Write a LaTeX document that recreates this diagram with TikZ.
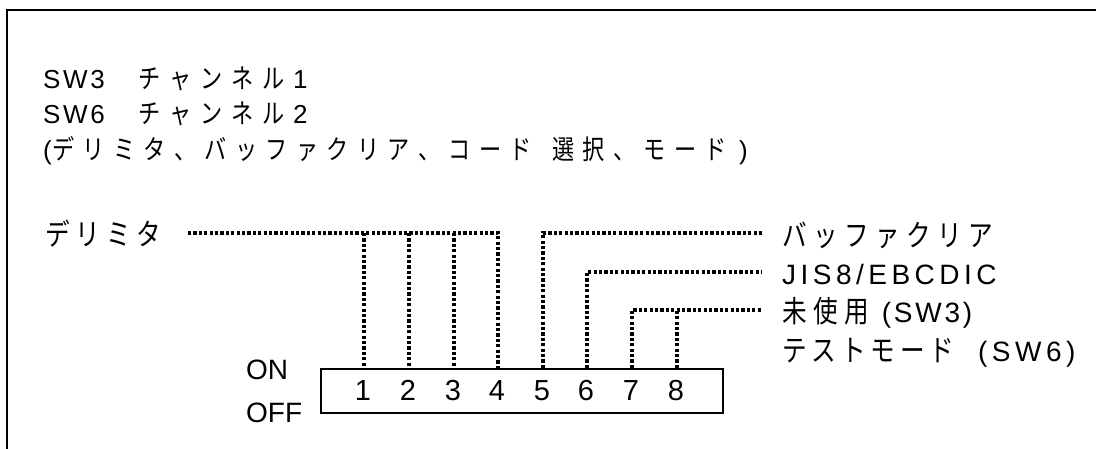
\documentclass[tikz,border=0pt]{standalone}
\usepackage{fontspec}
\setmainfont{Liberation Sans}
\newfontfamily\jp[FakeStretch=0.82]{Noto Sans CJK JP}
\newfontfamily\lt[LetterSpace=10]{Liberation Sans}
\newfontfamily\ltw[LetterSpace=16]{Liberation Sans}
\makeatletter
\newcommand\jfix[2]{\def\jfix@w{#1}\jfix@loop#2\relax}
\def\jfix@loop#1{\ifx#1\relax\else\makebox[\jfix@w][l]{#1}\expandafter\jfix@loop\fi}
\makeatother
\begin{document}
\begin{tikzpicture}[x=1pt,y=-1pt,
  hdr/.style={inner sep=0pt,anchor=base west,font=\fontsize{26}{30}\selectfont},
  txt/.style={inner sep=0pt,anchor=base west,font=\fontsize{28}{30}\selectfont},
  num/.style={inner sep=0pt,anchor=base,font=\fontsize{29}{30}\selectfont},
  dots/.style={line width=3.4pt,dash pattern=on 3.2pt off 2.2pt},
  frame/.style={line width=2.6pt},
  box/.style={line width=2.2pt}]
\useasboundingbox (0,0) rectangle (1096,448);
\begin{scope}
\clip (0,0) rectangle (1096,448);
\draw[frame] (7,10) rectangle (1200,600);
\end{scope}
% header lines
\node[hdr] (l1) at (43,88) {\makebox[95pt][l]{\lt SW3}{\jp\fontsize{27}{30}\selectfont\jfix{31pt}{チャンネル}}\lt 1};
\node[hdr] (l2) at (43,123) {\makebox[95pt][l]{\lt SW6}{\jp\fontsize{27}{30}\selectfont\jfix{31pt}{チャンネル}}\lt 2};
\node[hdr] (l3) at (43,159) {\makebox[9pt][l]{(}{\jp\fontsize{27}{30}\selectfont\jfix{30.5pt}{デリミタ、バッファクリア、コード}\hspace{12pt}\jfix{30.5pt}{選択、モード}}\hspace{4pt})};
% left label
\node[txt] (delim) at (45,245) {\jp\fontsize{30}{30}\selectfont\jfix{30.5pt}{デリミタ}};
% right labels
\node[txt] (buf) at (782,246) {\jp\fontsize{30}{30}\selectfont\jfix{31pt}{バッファクリア}};
\node[txt] (jis) at (782,284) {\ltw JIS8/EBCDIC};
\node[txt] (unused) at (782,322) {{\jp\fontsize{30}{30}\selectfont\jfix{31pt}{未使}用}\hspace{13pt}\lt(SW3)};
\node[txt] (test) at (782,361) {{\jp\fontsize{30}{30}\selectfont\jfix{29.5pt}{テストモード}}\hspace{19pt}\ltw(SW6)};
% ON / OFF
\node[txt] (on) at (246,379) {ON};
\node[txt] (off) at (246,422) {OFF};
% switch box
\node[box,draw,minimum width=402pt,minimum height=44pt,inner sep=0pt,anchor=north west] (sw) at (320,368) {};
\foreach \i/\x in {1/364,2/409,3/454,4/498,5/543,6/587,7/632,8/677}{
  \coordinate (p\i) at (\x,368);
  \node[num] (n\i) at (\x-1,400) {\i};
}
\coordinate (dstart) at (188,233);
\coordinate (d4) at (498,233);
\coordinate (b5) at (543,233);
\coordinate (bend) at (762,233);
\coordinate (j6) at (587,272);
\coordinate (jend) at (762,272);
\coordinate (u7) at (632,310);
\coordinate (uend) at (762,310);
\coordinate (u8) at (677,310);
\draw[dots] (dstart) -- (d4) -- (p4);
\draw[dots] (p1 |- dstart) -- (p1);
\draw[dots] (p2 |- dstart) -- (p2);
\draw[dots] (p3 |- dstart) -- (p3);
\draw[dots] (p5) -- (b5) -- (bend);
\draw[dots] (p6) -- (j6) -- (jend);
\draw[dots] (p7) -- (u7) -- (uend);
\draw[dots] (p8) -- (u8);
\end{tikzpicture}
\end{document}
